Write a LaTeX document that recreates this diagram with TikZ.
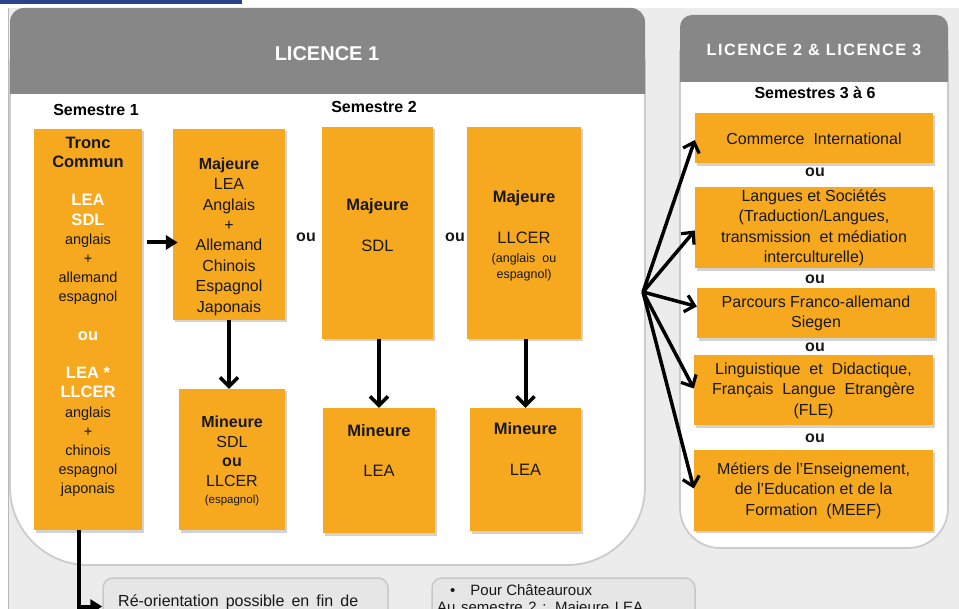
\documentclass[tikz,border=0pt]{standalone}
\usepackage{fontspec}
\setmainfont{Liberation Sans}
\usetikzlibrary{arrows.meta,shadows}
\definecolor{orng}{RGB}{246,169,31}
\definecolor{hdr}{RGB}{135,135,135}
\definecolor{bgc}{RGB}{236,236,236}
\definecolor{blu}{RGB}{42,68,140}
\definecolor{txt}{RGB}{24,24,24}
\definecolor{gboxfill}{RGB}{230,230,230}
\definecolor{gboxline}{RGB}{200,200,200}
\newcommand{\tbig}[1]{{\fontsize{16.5}{19.2}\selectfont\bfseries #1}}
\newcommand{\wbf}[1]{\textcolor{white}{\tbig{#1}}}
\begin{document}
\begin{tikzpicture}[x=1pt,y=-1pt,
  obox/.style={fill=orng, draw=none, inner sep=0pt, align=center, text=txt,
    drop shadow={shadow xshift=2pt, shadow yshift=-2.5pt, opacity=0.35}},
  btxt/.style={inner sep=0pt, align=center, text=txt},
  rtxt/.style={font=\fontsize{16}{20.5}\selectfont},
  outxt/.style={inner sep=0pt, text=txt, font=\bfseries\fontsize{16}{19}\selectfont},
  semtxt/.style={inner sep=0pt, text=black, font=\bfseries\fontsize{16}{19}\selectfont},
  gbox/.style={fill=gboxfill, draw=gboxline, line width=1.5pt, rounded corners=10pt, inner sep=0pt},
  varrow/.style={line width=4pt, -{Straight Barb[length=9pt,width=18pt,line width=3.5pt]}},
  fanarrow/.style={line width=3.5pt, -{Straight Barb[length=9pt,width=17pt,line width=3.2pt]}},
  farrow/.style={line width=4pt, -{Triangle[length=12pt,width=14pt]}},
]
\useasboundingbox (0,0) rectangle (959,609);
\clip (0,0) rectangle (959,609);
% background
\fill[white] (0,0) rectangle (959,609);
\fill[bgc] (9,8) rectangle (959,609);
\draw[gray!55, line width=1pt] (8.5,8) -- (8.5,609);
\fill[blu] (0,0) rectangle (242,4);

% Licence 1 panel
\filldraw[fill=white, draw=gray!40, line width=1.8pt, rounded corners=78pt] (10,60) -- (10,565) -- (645,565) -- (645,60);
\fill[hdr, rounded corners=14pt] (10,94) -- (10,8) -- (645,8) -- (645,94);
% Licence 2-3 panel
\filldraw[fill=white, draw=gray!40, line width=1.8pt, rounded corners=40pt] (680,50) -- (680,548) -- (948,548) -- (948,50);
\fill[hdr, rounded corners=12pt] (680,82) -- (680,15) -- (948,15) -- (948,82);

\node[inner sep=0pt, text=white, font=\bfseries\fontsize{20}{24}\selectfont] (l1) at (327,54) {LICENCE 1};
\node[inner sep=0pt, text=white, font=\bfseries\fontsize{16.3}{19}\selectfont\addfontfeature{LetterSpace=9}] (l23) at (814,50) {LICENCE 2 \& LICENCE 3};

\node[semtxt] (s1) at (96,110) {Semestre 1};
\node[semtxt] (s2) at (374,107) {Semestre 2};
\node[semtxt] (s36) at (815,93) {Semestres 3 à 6};

% Licence 1 boxes
\node[obox, minimum width=108pt, minimum height=401pt] (tronc) at (88,329.5) {};
\node[obox, minimum width=112pt, minimum height=191pt] (majLEA) at (229,224.5) {};
\node[obox, minimum width=106pt, minimum height=141pt] (minSDL) at (232,459.5) {};
\node[obox, minimum width=111pt, minimum height=212pt] (majSDL) at (377.5,233) {};
\node[obox, minimum width=112pt, minimum height=125pt] (minLEAa) at (379,470.5) {};
\node[obox, minimum width=114pt, minimum height=212pt] (majLLCER) at (524,233) {};
\node[obox, minimum width=111pt, minimum height=123pt] (minLEAb) at (525.5,469.5) {};

\node[btxt, font=\fontsize{14.5}{19.2}\selectfont] (troncT) at (88,317)
 {\tbig{Tronc}\\\tbig{Commun}\\[19.2pt]\wbf{LEA}\\\wbf{SDL}\\anglais\\+\\allemand\\espagnol\\[19.2pt]\wbf{ou}\\[19.2pt]\wbf{LEA *}\\\wbf{LLCER}\\anglais\\+\\chinois\\espagnol\\japonais};
\node[btxt, font=\fontsize{16}{20.4}\selectfont] (majLEAT) at (229,236.5)
 {\textbf{Majeure}\\LEA\\Anglais\\+\\Allemand\\Chinois\\Espagnol\\Japonais};
\node[btxt, font=\fontsize{16}{19.5}\selectfont] (minSDLT) at (232,461)
 {\textbf{Mineure}\\SDL\\\textbf{ou}\\LLCER\\[-2pt]{\fontsize{11.5}{14}\selectfont(espagnol)}};
\node[btxt, font=\fontsize{16.5}{20.5}\selectfont] (majSDLT) at (377.5,225.5)
 {\textbf{Majeure}\\[20.5pt]SDL};
\node[btxt, font=\fontsize{16.5}{20.5}\selectfont] (majLLCERT) at (524,236)
 {\textbf{Majeure}\\[20.5pt]LLCER\\[-2pt]{\fontsize{12.5}{15}\selectfont(anglais\ \ ou}\\[-4.5pt]{\fontsize{12.5}{15}\selectfont espagnol)}};
\node[btxt, font=\fontsize{16.5}{20}\selectfont] (minLEAaT) at (379,451)
 {\textbf{Mineure}\\[20pt]LEA};
\node[btxt, font=\fontsize{16.5}{20.5}\selectfont] (minLEAbT) at (525.5,449)
 {\textbf{Mineure}\\[21pt]LEA};

\node[outxt] (ou1) at (306,237) {ou};
\node[outxt] (ou2) at (455,237) {ou};

% Licence 2-3 boxes
\node[obox, rtxt, minimum width=238pt, minimum height=50pt] (commerce) at (814,138.5) {Commerce\ \ International};
\node[obox, rtxt, minimum width=238pt, minimum height=81pt] (langues) at (814,228)
 {Langues et Sociétés\\(Traduction/Langues,\\transmission\ \ et médiation\\interculturelle)};
\node[obox, rtxt, minimum width=238pt, minimum height=50pt] (franco) at (816,313.5)
 {Parcours Franco-allemand\\Siegen};
\node[obox, rtxt, minimum width=239pt, minimum height=70pt] (ling) at (813.5,390.5)
 {Linguistique\ \ et\ \ Didactique,\\Français\ \ Langue\ \ Etrangère\\(FLE)};
\node[obox, rtxt, minimum width=239pt, minimum height=80pt] (metiers) at (813.5,490.5)
 {Métiers de l’Enseignement,\\de l’Education et de la\\Formation\ \ (MEEF)};

\node[outxt] (ou3) at (815,172) {ou};
\node[outxt] (ou4) at (815,279) {ou};
\node[outxt] (ou5) at (815,347) {ou};
\node[outxt] (ou6) at (815,438) {ou};

% bottom boxes
\node[gbox, minimum width=285pt, minimum height=73pt] (reo) at (245.5,614.5) {};
\node[gbox, minimum width=263pt, minimum height=73pt] (chat) at (563.5,614.5) {};
\node[anchor=base west, inner sep=0pt, text=txt, font=\fontsize{16}{19}\selectfont] (reoT) at (118,606) {\makebox[240pt][s]{Ré-orientation possible en fin de}};
\node[anchor=base west, inner sep=0pt, text=txt, font=\fontsize{15}{18}\selectfont] (chatA) at (450,595) {•\hspace{15pt}Pour Châteauroux};
\node[anchor=base west, inner sep=0pt, text=txt, font=\fontsize{15}{18}\selectfont] (chatB) at (437,612) {\makebox[206pt][s]{Au semestre 2 : Majeure LEA}};

% arrows
\coordinate (hy) at (0,242.5);
\draw[farrow, shorten <=5pt, shorten >=-5pt] (tronc.east |- hy) -- (majLEA.west |- hy);
\draw[varrow] (majLEA.south) -- (majLEA.south |- minSDL.north);
\draw[varrow] ([xshift=1.5pt]majSDL.south) -- ([xshift=1.5pt]majSDL.south |- minLEAa.north);
\draw[varrow] ([xshift=1.5pt]majLLCER.south) -- ([xshift=1.5pt]majLLCER.south |- minLEAb.north);
\draw[farrow] ([xshift=-9pt]tronc.south) |- ([yshift=8pt]reo.west);

\coordinate (fan) at (643,292);
\draw[fanarrow] (fan) -- ([yshift=-1.5pt]commerce.west);
\draw[fanarrow] (fan) -- ([yshift=-2.5pt]langues.west);
\draw[fanarrow] (fan) -- ([yshift=7pt]franco.west);
\draw[fanarrow] (fan) -- ([yshift=2pt]ling.west);
\draw[fanarrow] (fan) -- ([yshift=2pt]metiers.west);
\end{tikzpicture}
\end{document}
